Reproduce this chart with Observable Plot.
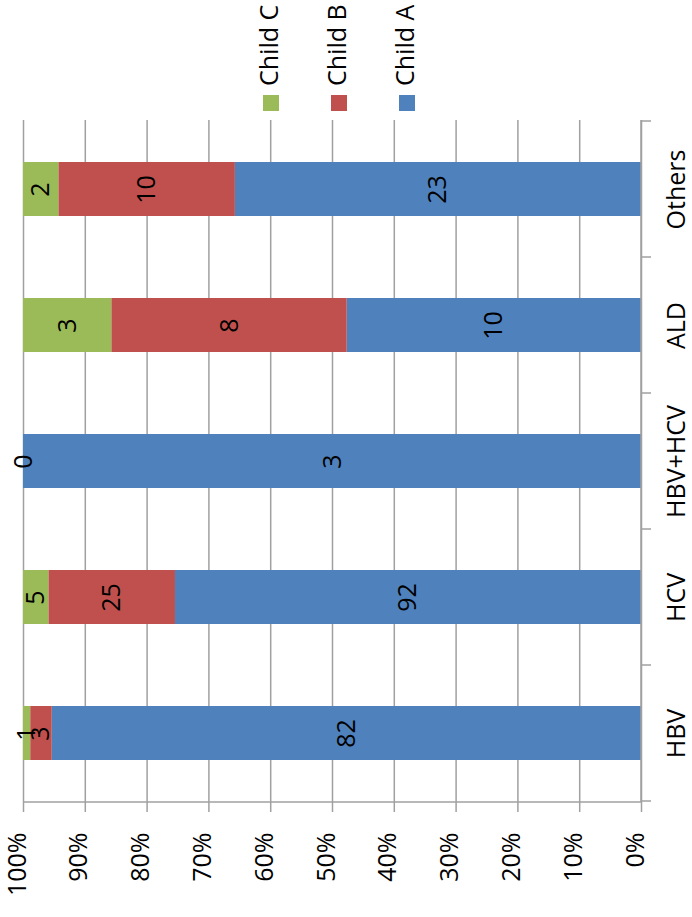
<!DOCTYPE html>
<html>
<head>
<meta charset="utf-8">
<script src="https://cdn.jsdelivr.net/npm/d3@7"></script>
<script src="https://cdn.jsdelivr.net/npm/@observablehq/plot@0.6"></script>
<style>
  body { margin: 0; background: #fff; font-family: "Open Sans", sans-serif; }
  #wrap { position: relative; width: 692px; height: 917px; }
  #legend { position: absolute; left: 0; top: 0; width: 692px; height: 118px; }
  .sw { position: absolute; width: 16px; height: 16px; }
  .lbl { position: absolute; width: 0; height: 0; }
  .lbl span { position: absolute; left: 0; top: 0; white-space: nowrap; font-size: 25px; line-height: 1; color: #000;
              transform-origin: 0 0; transform: rotate(-90deg) translate(0, -50%); }
</style>
</head>
<body>
<div id="wrap"><div id="legend"></div></div>
<script>
// ---- data ----
const categories = ["HBV", "HCV", "HBV+HCV", "ALD", "Others"];
const series = ["Child A", "Child B", "Child C"];
const childA = [82, 92, 3, 10, 23];
const childB = [3, 25, 0, 8, 10];
const childC = [1, 5, null, 3, 2];
const colors = ["#4F81BD", "#C0504D", "#9BBB59"];
const percentTicks = [0, 0.1, 0.2, 0.3, 0.4, 0.5, 0.6, 0.7, 0.8, 0.9, 1];
const percentLabels = ["0%", "10%", "20%", "30%", "40%", "50%", "60%", "70%", "80%", "90%", "100%"];

const values = [childA, childB, childC];
const rows = categories.flatMap((c, i) =>
  series.map((s, j) => ({category: c, series: s, value: values[j][i]}))
).filter(d => d.value != null);

const gridColor = "#a0a0a0";

// axis lines + category boundary ticks, drawn from the scales
function axisLines(index, scales, vals, dimensions) {
  const x = scales.x, y = scales.y;
  const step = y.step(), bw = y.bandwidth();
  const half = (step - bw) / 2;
  const x0 = x(0), x100 = x(1);
  const top = dimensions.marginTop;
  const bottom = dimensions.height - dimensions.marginBottom;
  const g = d3.create("svg:g").attr("stroke", gridColor).attr("stroke-width", 1.5).attr("fill", "none");
  g.append("line").attr("x1", x100).attr("x2", x0).attr("y1", bottom).attr("y2", bottom);
  g.append("line").attr("x1", x0).attr("x2", x0).attr("y1", top).attr("y2", bottom);
  const dom = y.domain();
  const bounds = dom.map(c => y(c) - half).concat([y(dom[dom.length - 1]) + bw + half]);
  for (const b of bounds) {
    g.append("line").attr("x1", x0).attr("x2", x0 + 10).attr("y1", b).attr("y2", b);
  }
  return g.node();
}

const chart = Plot.plot({
  width: 692,
  height: 917,
  marginTop: 120,
  marginBottom: 115,
  marginLeft: 23,
  marginRight: 51,
  style: {fontFamily: '"Open Sans", sans-serif', fontSize: "25px", color: "#000", background: "transparent", overflow: "visible"},
  x: {domain: [1, 0], axis: null},
  y: {domain: [...categories].reverse(), paddingInner: 0.6, paddingOuter: 0.3, align: 0.5, axis: null},
  color: {domain: series, range: colors},
  marks: [
    Plot.gridX(percentTicks, {stroke: gridColor, strokeOpacity: 1, strokeWidth: 1.5}),
    Plot.axisX({ticks: percentTicks, tickSize: 10, fill: "none", stroke: gridColor, strokeWidth: 1.5}),
    Plot.barX(rows, Plot.stackX({x: "value", y: "category", fill: "series", offset: "normalize"})),
    axisLines,
    Plot.text(rows, Plot.stackX({
      x: "value", y: "category", z: "series", offset: "normalize",
      text: d => String(d.value), rotate: -90, fill: "#000", fontSize: 25
    })),
    Plot.text(percentTicks, {
      x: d => d, text: (d, i) => percentLabels[i], frameAnchor: "bottom", dy: 30, dx: 2,
      rotate: -90, textAnchor: "end", fill: "#000", fontSize: 25
    }),
    Plot.text(categories, {
      y: d => d, text: d => d, frameAnchor: "right", dx: 35,
      rotate: -90, textAnchor: "middle", fill: "#000", fontSize: 25
    })
  ]
});
document.getElementById("wrap").appendChild(chart);

// legend (rotated like the chart): Child C, Child B, Child A from left to right
const legend = document.getElementById("legend");
const order = [2, 1, 0];
order.forEach((si, k) => {
  const cx = 271 + k * 68;
  const sw = document.createElement("div");
  sw.className = "sw";
  sw.style.left = (cx - 8) + "px";
  sw.style.top = "95px";
  sw.style.background = colors[si];
  legend.appendChild(sw);
  const lb = document.createElement("div");
  lb.className = "lbl";
  lb.style.left = (cx - 3) + "px";
  lb.style.top = "86px";
  const sp = document.createElement("span");
  sp.textContent = series[si];
  lb.appendChild(sp);
  legend.appendChild(lb);
});
chart.style.position = "absolute";
chart.style.left = "0";
chart.style.top = "0";
</script>
</body>
</html>
